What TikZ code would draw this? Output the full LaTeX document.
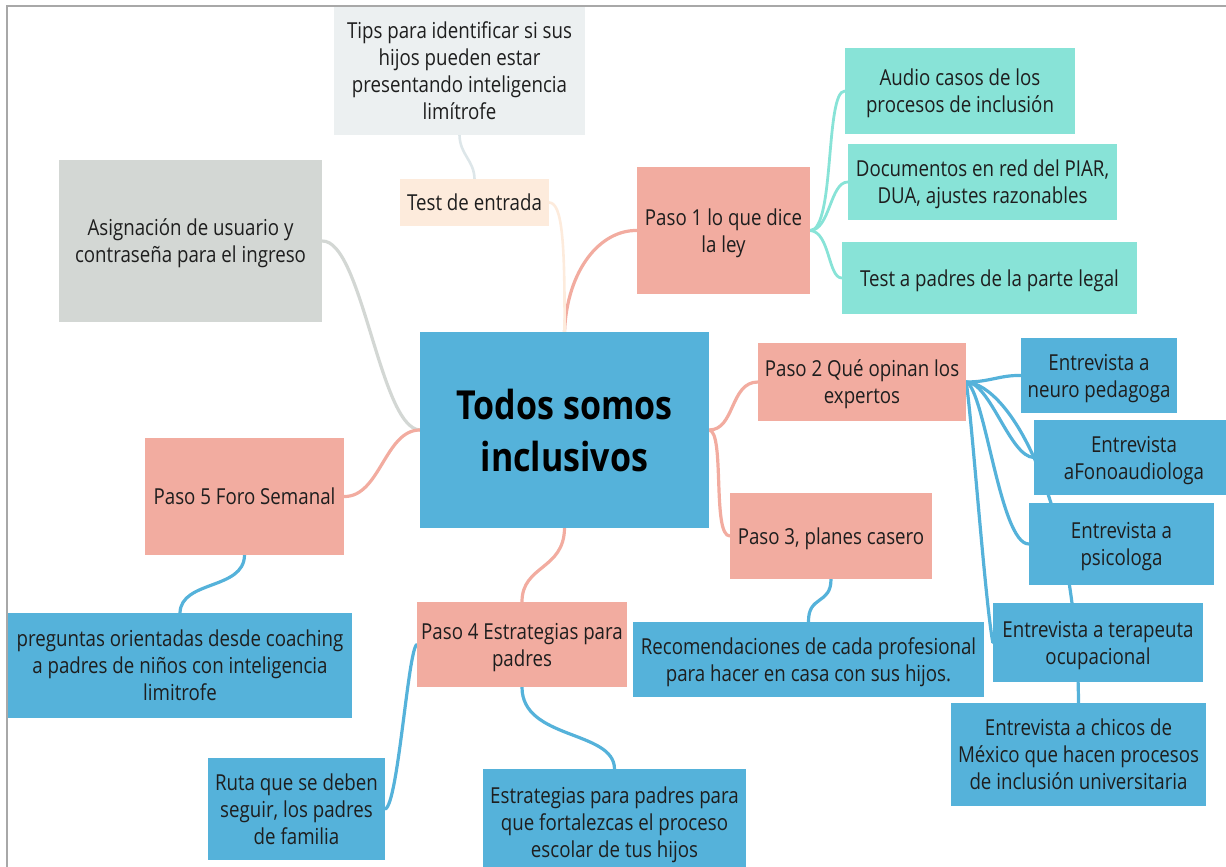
\documentclass[tikz,border=0pt]{standalone}
\usepackage{fontspec}
\setmainfont{Open Sans}[FakeStretch=0.85]
\usetikzlibrary{backgrounds}
\definecolor{cblue}{HTML}{55B2DA}
\definecolor{csalmon}{HTML}{F2ACA0}
\definecolor{cteal}{HTML}{88E3D7}
\definecolor{cgray}{HTML}{D3D7D4}
\definecolor{ctips}{HTML}{ECF0F1}
\definecolor{cpeach}{HTML}{FDEBDC}
\definecolor{ctipsline}{HTML}{DDE6E9}
\definecolor{ctext}{HTML}{1E1E1E}
\definecolor{cframe}{HTML}{A8A8A8}
\tikzset{
  box/.style={rectangle, inner sep=0pt, align=center, text=ctext, text depth=0pt,
    font=\fontsize{22}{27}\selectfont},
  bluebox/.style={box, fill=cblue},
  salbox/.style={box, fill=csalmon},
  tealbox/.style={box, fill=cteal},
  link/.style={line width=3.2pt, line cap=round},
}
\begin{document}
\begin{tikzpicture}[x=1pt,y=-1pt]
\useasboundingbox (0,0) rectangle (1226,867);
\begin{scope}
\clip (0,0) rectangle (1226,867);
\draw[cframe, line width=1.6pt] (7,867) -- (7,6) -- (1226,6);

\node[box, fill=ctips, minimum width=251pt, minimum height=128pt] (tips) at (459.5,71)
  {Tips para identificar si sus\\hijos pueden estar\\presentando inteligencia\\limítrofe};
\node[box, fill=cpeach, minimum width=149pt, minimum height=47pt] (test) at (474.5,202.5)
  {Test de entrada};
\node[box, fill=cgray, minimum width=263pt, minimum height=162pt] (asig) at (190.5,241)
  {Asignación de usuario y\\contraseña para el ingreso};
\node[salbox, minimum width=173pt, minimum height=127pt] (paso1) at (723.5,230.5)
  {Paso 1 lo que dice\\la ley};
\node[tealbox, minimum width=230pt, minimum height=86pt] (audio) at (960,91)
  {Audio casos de los\\procesos de inclusión};
\node[tealbox, minimum width=269pt, minimum height=76pt] (docs) at (982.5,182)
  {Documentos en red del PIAR,\\DUA, ajustes razonables};
\node[tealbox, minimum width=295pt, minimum height=72pt] (testp) at (989.5,278)
  {Test a padres de la parte legal};
\node[bluebox, minimum width=289pt, minimum height=196pt,
  font=\fontsize{40}{52}\selectfont\bfseries, text=black] (center) at (564.5,430)
  {Todos somos\\inclusivos};
\node[salbox, minimum width=208pt, minimum height=78pt] (paso2) at (862,382)
  {Paso 2 Qué opinan los\\expertos};
\node[salbox, minimum width=202pt, minimum height=86pt] (paso3) at (831,536)
  {Paso 3, planes casero};
\node[bluebox, minimum width=156pt, minimum height=75pt] (neuro) at (1099,375.5)
  {Entrevista a\\neuro pedagoga};
\node[bluebox, minimum width=200pt, minimum height=75pt] (fono) at (1134,457.5)
  {Entrevista\\aFonoaudiologa};
\node[bluebox, minimum width=185pt, minimum height=82pt] (psico) at (1121.5,544)
  {Entrevista a\\psicologa};
\node[bluebox, minimum width=210pt, minimum height=79pt] (tera) at (1098,642.5)
  {Entrevista a terapeuta\\ocupacional};
\node[bluebox, minimum width=255pt, minimum height=103pt] (chicos) at (1078.5,754.5)
  {Entrevista a chicos de\\México que hacen procesos\\de inclusión universitaria};
\node[bluebox, minimum width=351pt, minimum height=75pt] (recom) at (808.5,659.5)
  {Recomendaciones de cada profesional\\para hacer en casa con sus hijos.};
\node[salbox, minimum width=199pt, minimum height=117pt] (paso5) at (244.5,496.5)
  {Paso 5 Foro Semanal};
\node[bluebox, minimum width=344pt, minimum height=105pt] (preg) at (180,665.5)
  {preguntas orientadas desde coaching\\a padres de niños con inteligencia\\limitrofe};
\node[salbox, minimum width=210pt, minimum height=85pt] (paso4) at (522,644.5)
  {Paso 4 Estrategias para\\padres};
\node[bluebox, minimum width=177pt, minimum height=102pt] (ruta) at (296.5,809)
  {Ruta que se deben\\seguir, los padres\\de familia};
\node[bluebox, minimum width=263pt, minimum height=106pt] (estr) at (614.5,822)
  {Estrategias para padres para\\que fortalezcas el proceso\\escolar de tus hijos};

\begin{scope}[on background layer]
\draw[link, csalmon] (center.north) .. controls (567,270) and (600,230) .. (paso1.west);
\draw[link, cpeach, line width=2.6pt] (center.north) .. controls (565,240) and (562,203) .. (test.east);
\draw[link, ctipsline, line width=2.6pt] (test.north) .. controls (474,160) and (460,155) .. (tips.south);
\draw[link, cgray] (center.west) .. controls (380,428) and (362,240) .. (asig.east);
\draw[link, csalmon] (center.west) .. controls (385,430) and (380,497) .. (paso5.east);
\draw[link, csalmon] (center.east) .. controls (735,430) and (730,382) .. (paso2.west);
\draw[link, csalmon] (center.east) .. controls (725,432) and (712,536) .. (paso3.west);
\draw[link, csalmon] (center.south) .. controls (564,570) and (522,565) .. (paso4.north);
\draw[link, cteal, line width=2.8pt] (paso1.east) .. controls (835,230) and (825,91) .. (audio.west);
\draw[link, cteal, line width=2.8pt] (paso1.east) .. controls (830,230) and (830,182) .. (docs.west);
\draw[link, cteal, line width=2.8pt] (paso1.east) .. controls (830,232) and (828,278) .. (testp.west);
\draw[link, cblue] (paso2.east) .. controls (990,382) and (1000,375) .. (neuro.west);
\draw[link, cblue] (paso2.east) .. controls (990,382) and (1010,457) .. (fono.west);
\draw[link, cblue] (paso2.east) .. controls (985,390) and (1000,544) .. (psico.west);
\draw[link, cblue] (paso2.east) .. controls (972,420) and (985,600) .. (tera.west);
\draw[link, cblue] (paso2.east) .. controls (1010,385) and (1077,500) .. (chicos.north);
\draw[link, cblue] (paso3.south) .. controls (831,605) and (808,595) .. (recom.north);
\draw[link, cblue] (paso5.south) .. controls (244,590) and (181,580) .. (preg.north);
\draw[link, cblue] (paso4.west) .. controls (408,650) and (398,805) .. (ruta.east);
\draw[link, cblue] (paso4.south) .. controls (522,740) and (614,730) .. (estr.north);
\end{scope}
\end{scope}
\end{tikzpicture}
\end{document}
